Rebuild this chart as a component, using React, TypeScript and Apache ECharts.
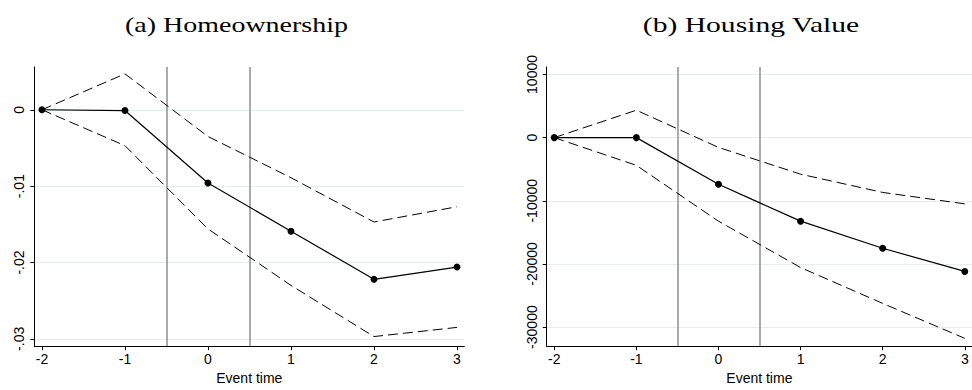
import React, { useEffect, useRef } from "react";
import * as echarts from "echarts";

// Event-study estimates with 95% confidence bounds
const eventTimes = [-2, -1, 0, 1, 2, 3];
const homeownershipEst = [0, -0.0001, -0.0096, -0.0159, -0.0222, -0.0206];
const homeownershipUpper = [0, 0.0047, -0.0035, -0.0089, -0.0147, -0.0127];
const homeownershipLower = [0, -0.0047, -0.0156, -0.023, -0.0297, -0.0285];
const housingValueEst = [0, 0, -7390, -13230, -17520, -21190];
const housingValueUpper = [0, 4340, -1550, -5790, -8680, -10490];
const housingValueLower = [0, -4390, -13230, -20570, -26250, -31780];

const homeownershipTicks = [-0.03, -0.02, -0.01, 0];
const housingValueTicks = [-30000, -20000, -10000, 0, 10000];
const treatmentWindow = [-0.5, 0.5];
const panelTitles = ["(a) Homeownership", "(b) Housing Value"];
const xAxisName = "Event time";

const SANS = "'Liberation Sans', Arial, sans-serif";
const SERIF = "'Liberation Serif', 'Times New Roman', serif";

const pairs = (ys: number[]) => eventTimes.map((x, i) => [x, ys[i]]);

// Stata-style labels: -.01 instead of -0.01
const stataFmt = (v: number) => {
  if (Math.abs(v) < 1e-12) return "0";
  const s = String(Math.round(v * 1000) / 1000);
  return s.replace("0.", ".");
};

function measure(text: string, font: string) {
  const c = document.createElement("canvas").getContext("2d")!;
  c.font = font;
  return c.measureText(text).width;
}

export default function App() {
  const ref = useRef<HTMLDivElement>(null);

  useEffect(() => {
    if (!ref.current) return;
    const chart = echarts.init(ref.current, undefined, { renderer: "svg" });

    const titleFont = `22px ${SERIF}`;
    const titleSpecs = [
      { text: panelTitles[0], cx: 236.5, w: 223 },
      { text: panelTitles[1], cx: 751, w: 217 },
    ];

    const xAxisBase = (gridIndex: number) => ({
      type: "value" as const,
      gridIndex,
      min: -2.092,
      max: 3.088,
      name: xAxisName,
      nameLocation: "middle" as const,
      nameGap: 22,
      nameTextStyle: { fontFamily: SANS, fontSize: 14, color: "#000" },
      axisLine: { show: true, onZero: false, lineStyle: { color: "#000", width: 1 } },
      axisTick: { show: true, length: 4, customValues: eventTimes, lineStyle: { color: "#000" } },
      axisLabel: {
        customValues: eventTimes,
        margin: 6,
        fontFamily: SANS,
        fontSize: 14,
        color: "#000",
        formatter: (v: number) => String(v),
      },
      splitLine: { show: false },
    });

    const yAxisBase = (gridIndex: number, min: number, max: number, ticks: number[], fmt: (v: number) => string) => ({
      type: "value" as const,
      gridIndex,
      min,
      max,
      axisLine: { show: true, onZero: false, lineStyle: { color: "#000", width: 1 } },
      axisTick: { show: true, length: 4, customValues: ticks, lineStyle: { color: "#000" } },
      axisLabel: {
        customValues: ticks,
        rotate: 90,
        margin: 8,
        fontFamily: SANS,
        fontSize: 14,
        color: "#000",
        formatter: fmt,
      },
      splitLine: { show: true, lineStyle: { color: "#e4eeee", width: 1 } },
    });

    const panelSeries = (idx: number, est: number[], up: number[], lo: number[]) => [
      {
        type: "line",
        xAxisIndex: idx,
        yAxisIndex: idx,
        data: pairs(up),
        symbol: "none",
        lineStyle: { color: "#000", width: 1, type: [10, 5] },
        z: 3,
      },
      {
        type: "line",
        xAxisIndex: idx,
        yAxisIndex: idx,
        data: pairs(lo),
        symbol: "none",
        lineStyle: { color: "#000", width: 1, type: [10, 5] },
        z: 3,
      },
      {
        type: "line",
        xAxisIndex: idx,
        yAxisIndex: idx,
        data: pairs(est),
        symbol: "circle",
        symbolSize: 7,
        itemStyle: { color: "#000" },
        lineStyle: { color: "#000", width: 1.2 },
        z: 4,
        markLine: {
          silent: true,
          symbol: "none",
          label: { show: false },
          lineStyle: { color: "#8f8f8f", width: 1.5, type: "solid" },
          data: treatmentWindow.map((x) => ({ xAxis: x })),
          z: 2,
        },
      },
    ];

    chart.setOption({
      animation: false,
      backgroundColor: "#fff",
      grid: [
        { left: 34.3, top: 67, width: 430, height: 284.7 },
        { left: 546.7, top: 67, width: 430, height: 284.7 },
      ],
      xAxis: [xAxisBase(0), xAxisBase(1)],
      yAxis: [
        yAxisBase(0, -0.03095, 0.0056, homeownershipTicks, stataFmt),
        yAxisBase(1, -33010, 11180, housingValueTicks, (v: number) => String(Math.round(v))),
      ],
      series: [
        ...panelSeries(0, homeownershipEst, homeownershipUpper, homeownershipLower),
        ...panelSeries(1, housingValueEst, housingValueUpper, housingValueLower),
      ],
      graphic: titleSpecs.map((t) => ({
        type: "text",
        x: t.cx,
        y: 25,
        scaleX: t.w / measure(t.text, titleFont),
        style: {
          text: t.text,
          font: titleFont,
          fill: "#000",
          textAlign: "center",
          textVerticalAlign: "middle",
        },
      })),
    });

    return () => chart.dispose();
  }, []);

  return (
    <div
      ref={ref}
      style={{ position: "fixed", left: 0, top: 0, width: 972, height: 390, overflow: "hidden" }}
    />
  );
}
